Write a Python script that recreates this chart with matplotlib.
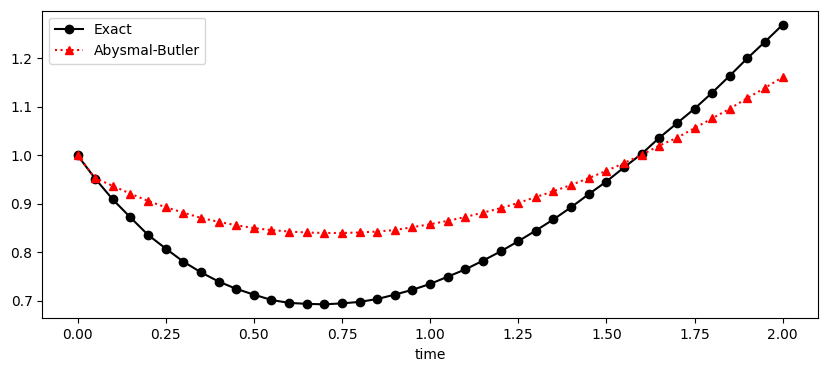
import numpy as np
import matplotlib
matplotlib.use("Agg")
import matplotlib.pyplot as plt

# time grid and solutions
time = np.linspace(0, 2, 41)
exact = [1.000, 0.952, 0.909, 0.872, 0.836, 0.808, 0.781, 0.759, 0.740, 0.725,
         0.713, 0.702, 0.696, 0.694, 0.693, 0.695, 0.698, 0.704, 0.713, 0.723,
         0.735, 0.750, 0.765, 0.783, 0.802, 0.823, 0.845, 0.868, 0.893, 0.920,
         0.946, 0.975, 1.003, 1.036, 1.066, 1.096, 1.129, 1.164, 1.200, 1.234,
         1.269]
abysmal_butler = [1.000, 0.953, 0.937, 0.921, 0.906, 0.893, 0.882, 0.871, 0.863, 0.856,
                  0.850, 0.846, 0.843, 0.841, 0.840, 0.840, 0.841, 0.843, 0.846, 0.852,
                  0.858, 0.865, 0.873, 0.882, 0.891, 0.902, 0.914, 0.926, 0.939, 0.953,
                  0.968, 0.984, 1.001, 1.020, 1.036, 1.056, 1.076, 1.096, 1.118, 1.139,
                  1.161]

fig = plt.figure(figsize=(8.26, 3.71), dpi=100)
ax = fig.add_axes([0.0512, 0.142, 0.939, 0.829])
ax.plot(time, exact, 'k-o', label="Exact")
ax.plot(time, abysmal_butler, 'r:^', label="Abysmal-Butler")
ax.set_xlabel("time")
ax.legend(loc="upper left")

fig.savefig("out.png", dpi=100)
